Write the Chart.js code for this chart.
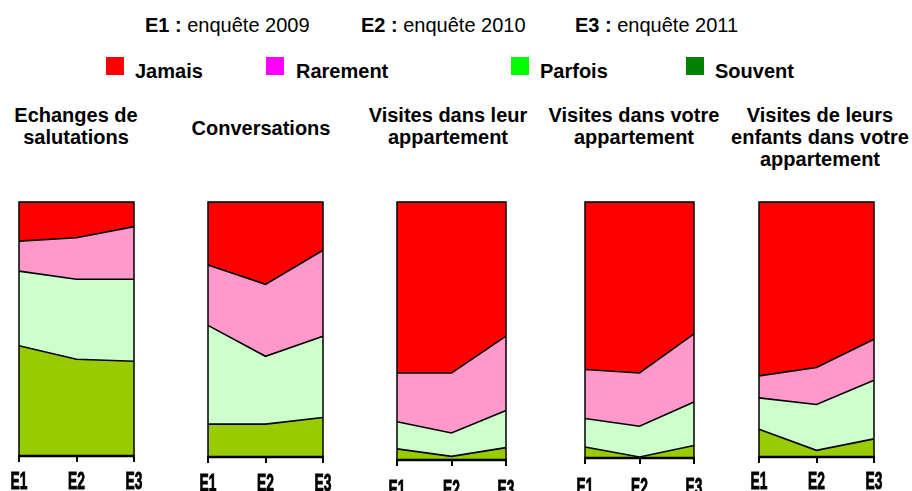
<!DOCTYPE html>
<html lang="fr">
<head>
<meta charset="utf-8">
<title>Relations de voisinage 2009-2011</title>
<script src="https://cdn.jsdelivr.net/npm/chart.js@4/dist/chart.umd.min.js"></script>
<style>
  html, body { margin: 0; padding: 0; background: #fff; }
  #page { position: relative; width: 912px; height: 491px; overflow: hidden;
          font-family: "Liberation Sans", Arial, sans-serif; color: #000; }
  .abs { position: absolute; white-space: nowrap; }
  .hdr { font-size: 20px; line-height: 22px; }
  .hdr b { font-weight: bold; }
  .leg { font-size: 20px; line-height: 22px; font-weight: bold; }
  .sw { position: absolute; width: 18px; height: 18px; }
  .ttl { font-size: 20px; line-height: 22px; font-weight: bold; text-align: center;
         transform: translateX(-50%); }
  canvas { position: absolute; }
</style>
</head>
<body>
<div id="page"></div>
<script>
// Survey waves on the x axis
const surveys = ['E1', 'E2', 'E3'];
const surveyNames = ['enquête 2009', 'enquête 2010', 'enquête 2011'];

// Answer categories, top of the stack first
const series = ['Jamais', 'Rarement', 'Parfois', 'Souvent'];

// One chart per kind of contact
const panelTitles = [
  ['Echanges de', 'salutations'],
  ['Conversations'],
  ['Visites dans leur', 'appartement'],
  ['Visites dans votre', 'appartement'],
  ['Visites de leurs', 'enfants dans votre', 'appartement']
];

// Shares of answers (%) per panel, for E1, E2, E3
const souvent  = [[43.4, 38.1, 37.3], [12.9, 12.9, 15.5], [4.3, 1.4, 4.8], [4.3, 0.4, 4.9], [10.9, 2.6, 7.1]];
const parfois  = [[29.4, 31.5, 32.3], [38.7, 26.6, 31.9], [10.5, 9.1, 14.4], [11.1, 12.0, 17.0], [12.3, 18.0, 23.0]];
const rarement = [[11.8, 16.3, 20.7], [23.7, 28.2, 33.7], [18.9, 23.2, 28.8], [19.2, 20.8, 26.6], [8.6, 14.5, 16.1]];
const jamais   = [[15.4, 14.1, 9.7], [24.7, 32.3, 18.9], [66.3, 66.3, 52.0], [65.4, 66.8, 51.5], [68.2, 64.9, 53.8]];

// ---- styling and layout ----
const FONT = '"Liberation Sans", Arial, sans-serif';
const fillColors = { Jamais: '#ff0000', Rarement: '#ff99cc', Parfois: '#ccffcc', Souvent: '#99cc00' };
const keyColors  = { Jamais: '#ff0000', Rarement: '#ff00ff', Parfois: '#00ff00', Souvent: '#008000' };

// plot rectangle of each panel: left, right, top, bottom, label gap, title centre, title top
const panelBoxes = [
  { l: 19,  r: 134, t: 202, b: 456, gap: 17, cx: 76,  ty: 104 },
  { l: 208, r: 323, t: 202, b: 457, gap: 18, cx: 261, ty: 117 },
  { l: 397, r: 506, t: 202, b: 460, gap: 21, cx: 448, ty: 104 },
  { l: 585, r: 694, t: 202, b: 458, gap: 21, cx: 634, ty: 104 },
  { l: 759, r: 874, t: 202, b: 457, gap: 16, cx: 820, ty: 104 }
];
const headerLefts = [145, 361, 575];
const keySwatchLefts = [106, 266, 511, 686];
const keyTextLefts = [135, 296, 540, 715];

const page = document.getElementById('page');

// survey key line
surveys.forEach((s, i) => {
  const d = document.createElement('div');
  d.className = 'abs hdr';
  d.style.left = headerLefts[i] + 'px';
  d.style.top = '14px';
  d.innerHTML = '<b>' + s + ' :</b> ' + surveyNames[i];
  page.appendChild(d);
});

// colour key
series.forEach((name, i) => {
  const sw = document.createElement('div');
  sw.className = 'sw';
  sw.style.left = keySwatchLefts[i] + 'px';
  sw.style.top = '57px';
  sw.style.background = keyColors[name];
  page.appendChild(sw);
  const t = document.createElement('div');
  t.className = 'abs leg';
  t.style.left = keyTextLefts[i] + 'px';
  t.style.top = '60px';
  t.textContent = name;
  page.appendChild(t);
});

// frame, axis line and narrow tick labels
const framePlugin = {
  id: 'frame',
  afterDatasetsDraw(chart, args, opts) {
    const { ctx, chartArea: a } = chart;
    ctx.save();
    ctx.strokeStyle = '#000';
    ctx.lineWidth = 1.5;
    ctx.beginPath();
    ctx.moveTo(a.left, a.bottom); ctx.lineTo(a.left, a.top);
    ctx.lineTo(a.right, a.top); ctx.lineTo(a.right, a.bottom);
    ctx.stroke();
    ctx.lineWidth = 2.5;
    ctx.beginPath();
    ctx.moveTo(a.left - 1, a.bottom); ctx.lineTo(a.right + 1, a.bottom);
    ctx.stroke();
    ctx.restore();
  },
  afterDraw(chart, args, opts) {
    const { ctx, chartArea: a } = chart;
    const xs = chart.scales.x;
    ctx.save();
    ctx.fillStyle = '#000';
    ctx.strokeStyle = '#000';
    ctx.lineWidth = 0.9;
    ctx.font = 'bold 23px ' + FONT;
    ctx.textAlign = 'center';
    ctx.textBaseline = 'alphabetic';
    xs.ticks.forEach((tk, i) => {
      const label = xs.getLabelForValue(tk.value);
      ctx.save();
      ctx.translate(xs.getPixelForTick(i), a.bottom + opts.gap + 16);
      ctx.scale(0.6, 1);
      ctx.fillText(label, 0, 0);
      ctx.strokeText(label, 0, 0);
      ctx.restore();
    });
    ctx.restore();
  }
};

const PAD_X = 20, PAD_TOP = 10, AXIS_H = 60;

panelBoxes.forEach((box, p) => {
  const ttl = document.createElement('div');
  ttl.className = 'abs ttl';
  ttl.style.left = box.cx + 'px';
  ttl.style.top = box.ty + 'px';
  ttl.innerHTML = panelTitles[p].join('<br>');
  page.appendChild(ttl);

  const cv = document.createElement('canvas');
  const w = box.r - box.l + 2 * PAD_X;
  const h = box.b - box.t + PAD_TOP + AXIS_H;
  cv.width = w; cv.height = h;
  cv.style.left = (box.l - PAD_X) + 'px';
  cv.style.top = (box.t - PAD_TOP) + 'px';
  cv.style.width = w + 'px'; cv.style.height = h + 'px';
  page.appendChild(cv);

  const values = { Souvent: souvent[p], Parfois: parfois[p], Rarement: rarement[p], Jamais: jamais[p] };
  const order = ['Souvent', 'Parfois', 'Rarement', 'Jamais'];

  new Chart(cv, {
    type: 'line',
    data: {
      labels: surveys,
      datasets: order.map((name, i) => ({
        label: name,
        data: values[name],
        backgroundColor: fillColors[name],
        borderColor: '#000',
        borderWidth: 1.6,
        pointRadius: 0,
        tension: 0,
        fill: i === 0 ? 'origin' : '-1'
      }))
    },
    options: {
      responsive: false,
      animation: false,
      devicePixelRatio: 1,
      layout: { padding: { left: PAD_X, right: PAD_X, top: PAD_TOP, bottom: 0 } },
      plugins: {
        legend: { display: false },
        tooltip: { enabled: false },
        title: { display: false },
        frame: { gap: box.gap }
      },
      scales: {
        x: {
          offset: false,
          grid: { display: true, drawOnChartArea: false, drawTicks: true, tickLength: 6,
                  color: '#000', lineWidth: 2 },
          border: { display: false },
          ticks: { display: false },
          afterFit(scale) { scale.height = AXIS_H; }
        },
        y: {
          display: false,
          stacked: true,
          min: 0,
          max: 100
        }
      }
    },
    plugins: [framePlugin]
  });
});
</script>
</body>
</html>
